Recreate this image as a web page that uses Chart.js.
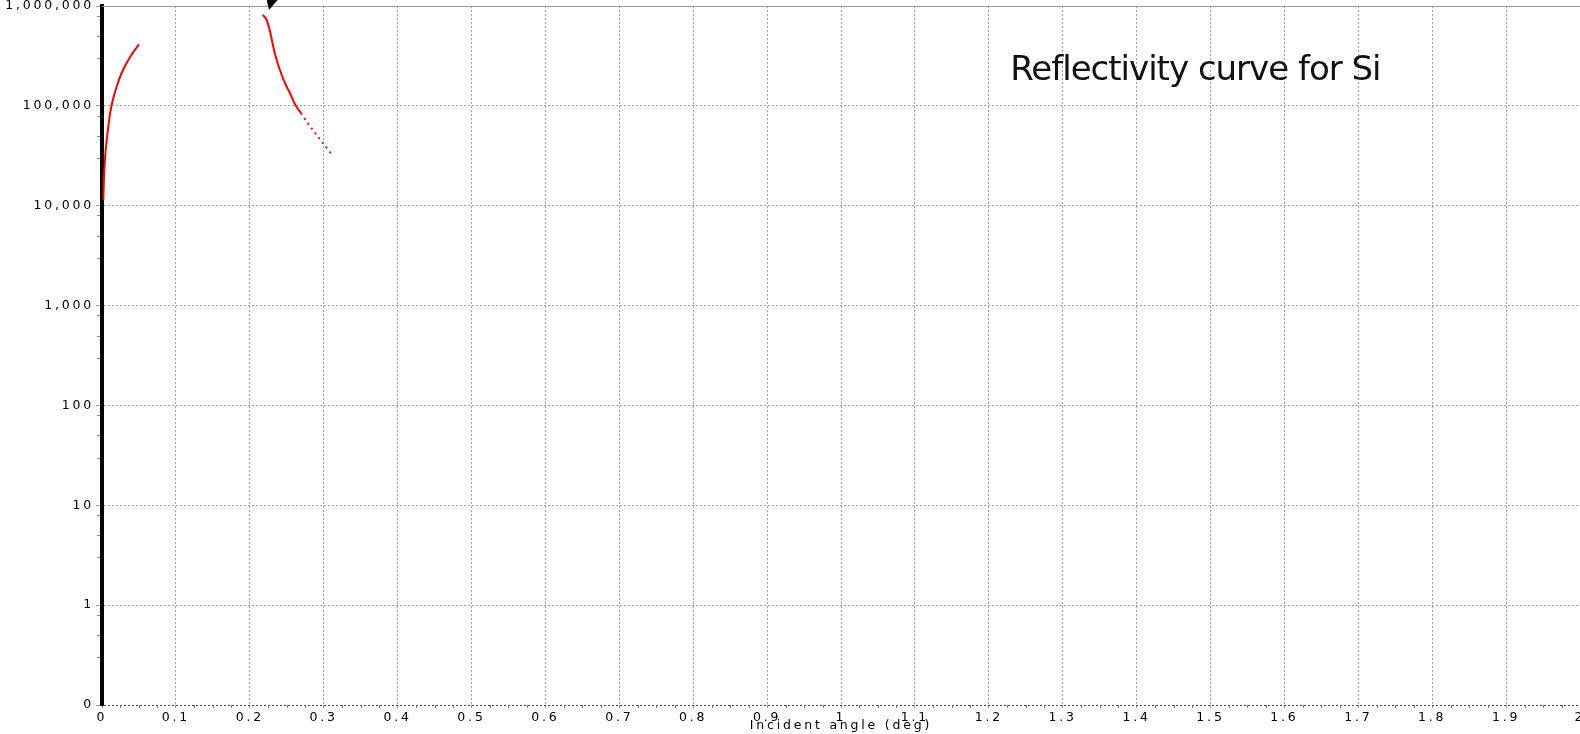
<!DOCTYPE html>
<html><head><meta charset="utf-8">
<script src="https://cdn.jsdelivr.net/npm/chart.js@4/dist/chart.umd.min.js"></script>
<style>html,body{margin:0;padding:0;background:#fff;overflow:hidden}#wrap{width:1580px;height:734px;position:relative}</style>
</head><body><div id="wrap"><canvas id="c" width="1580" height="734"></canvas></div>
<script>
const chartTitle = 'Reflectivity curve for Si';
const xAxisTitle = 'Incident angle (deg)';
const xTickValues = [0,0.1,0.2,0.3,0.4,0.5,0.6,0.7,0.8,0.9,1,1.1,1.2,1.3,1.4,1.5,1.6,1.7,1.8,1.9,2];
const xTickLabels = ['0','0.1','0.2','0.3','0.4','0.5','0.6','0.7','0.8','0.9','1','1.1','1.2','1.3','1.4','1.5','1.6','1.7','1.8','1.9','2'];
const yTickValues = [0.1,1,10,100,1000,10000,100000,1000000];
const yTickLabels = ['0','1','10','100','1,000','10,000','100,000','1,000,000'];
const yMinorMultipliers = [3,5,8];

// Series 1: rising branch near 0 deg
const series1X = [0.0018,0.0027,0.0041,0.0064,0.0085,0.0108,0.0131,0.0176,0.0220,0.0266,0.0334,0.0402,0.0469,0.0500];
const series1Y = [11400,19400,30100,45500,61400,82900,102000,137600,173400,213400,268700,326800,384100,413500];
// Series 2: falling branch after critical angle
const series2X = [0.2174,0.2228,0.2272,0.2313,0.2363,0.2408,0.2452,0.2498,0.2543,0.2617,0.2692,0.2769,0.2858,0.2993,0.3098];
const series2Y = [812700,724000,561900,406900,287900,228600,185800,156300,134500,102000,84800,69700,56700,42000,33500];

const markerAngle = 0.226;
const titleAngle = 1.229;

const deco = {
  id: 'deco',
  beforeDraw(chart) { chart.ctx.letterSpacing = '2.8px'; },
  afterDraw(chart) {
    const {ctx, chartArea: a, scales: {x, y}} = chart;
    ctx.save();
    ctx.letterSpacing = '0px';
    // top frame line
    ctx.strokeStyle = '#9a9a9a'; ctx.lineWidth = 1; ctx.setLineDash([]);
    ctx.beginPath(); ctx.moveTo(a.left, a.top + 0.5); ctx.lineTo(a.right, a.top + 0.5); ctx.stroke();
    // y minor ticks
    ctx.strokeStyle = '#888';
    for (let i = 0; i < yTickValues.length - 1; i++) {
      for (const m of yMinorMultipliers) {
        const py = Math.round(y.getPixelForValue(yTickValues[i] * m)) + 0.5;
        ctx.beginPath(); ctx.moveTo(a.left - 5, py); ctx.lineTo(a.left - 2, py); ctx.stroke();
      }
    }
    // x minor ticks
    ctx.strokeStyle = '#777';
    for (let i = 0; i < xTickValues.length - 1; i++) {
      for (const f of [0.25, 0.5, 0.75]) {
        const v = xTickValues[i] + (xTickValues[i + 1] - xTickValues[i]) * f;
        const px = Math.round(x.getPixelForValue(v)) + 0.5;
        ctx.beginPath(); ctx.moveTo(px, a.bottom); ctx.lineTo(px, a.bottom + 3); ctx.stroke();
      }
    }
    // arrow marker at top
    const tx = x.getPixelForValue(markerAngle);
    ctx.fillStyle = '#000';
    ctx.beginPath();
    ctx.moveTo(tx, a.top + 4);
    ctx.lineTo(tx - 2.5, a.top - 7);
    ctx.lineTo(tx + 9.5, a.top - 7);
    ctx.closePath(); ctx.fill();
    // chart title text
    ctx.font = '34px "DejaVu Sans"';
    ctx.letterSpacing = '-1px';
    ctx.fillStyle = '#111';
    ctx.textAlign = 'left'; ctx.textBaseline = 'alphabetic';
    ctx.fillText(chartTitle, x.getPixelForValue(titleAngle), a.top + 74);
    ctx.restore();
  }
};

const redSeg = c => (c.p0.parsed.x >= 0.268 ? [2, 4] : undefined);

new Chart(document.getElementById('c'), {
  type: 'scatter',
  data: {
    datasets: [
      { data: series1X.map((v, i) => ({x: v, y: series1Y[i]})), showLine: true, borderColor: '#ff0000', backgroundColor: '#ff0000', borderWidth: 2, pointRadius: 0, cubicInterpolationMode: 'monotone' },
      { data: series2X.map((v, i) => ({x: v, y: series2Y[i]})), showLine: true, borderColor: '#ff0000', backgroundColor: '#ff0000', borderWidth: 2, pointRadius: 0, cubicInterpolationMode: 'monotone', segment: { borderDash: redSeg } }
    ]
  },
  options: {
    responsive: false, animation: false, devicePixelRatio: 1,
    layout: { padding: { top: 6, left: 0, right: 0, bottom: 0 } },
    plugins: { legend: { display: false }, tooltip: { enabled: false }, title: { display: false } },
    scales: {
      x: {
        type: 'linear', min: 0, max: 2,
        afterBuildTicks: s => { s.ticks = xTickValues.map(v => ({value: v})); },
        afterFit: s => { s.height = 29; s.paddingLeft = 0; s.paddingRight = 0; },
        ticks: { autoSkip: false, maxRotation: 0, color: '#000', padding: 2, font: { family: 'DejaVu Sans', size: 12.5 },
                 callback: v => { const i = xTickValues.indexOf(v); return i >= 0 ? xTickLabels[i] : ''; } },
        grid: { color: '#a0a0a0', lineWidth: 1, tickLength: 3, tickColor: '#888' },
        border: { display: false, dash: [2, 2] },
        title: { display: true, text: xAxisTitle, color: '#000', font: { family: 'DejaVu Sans', size: 12.5 }, padding: { top: 0, bottom: 1 } }
      },
      y: {
        type: 'logarithmic', min: 0.1, max: 1000000,
        afterBuildTicks: s => { s.ticks = yTickValues.map(v => ({value: v})); },
        afterFit: s => { s.width = 102; s.paddingTop = 0; s.paddingBottom = 0; },
        ticks: { autoSkip: false, color: '#000', padding: 2, font: { family: 'DejaVu Sans', size: 12.5 },
                 callback: v => { const i = yTickValues.indexOf(v); return i >= 0 ? yTickLabels[i] : ''; } },
        grid: { color: c => (c.tick && c.tick.value === yTickValues[0] ? '#444' : '#a0a0a0'), lineWidth: 1, tickLength: 6, tickColor: '#999' },
        border: { display: true, color: '#000', width: 4, dash: [2, 2] }
      }
    }
  },
  plugins: [deco]
});
</script>
</body></html>
